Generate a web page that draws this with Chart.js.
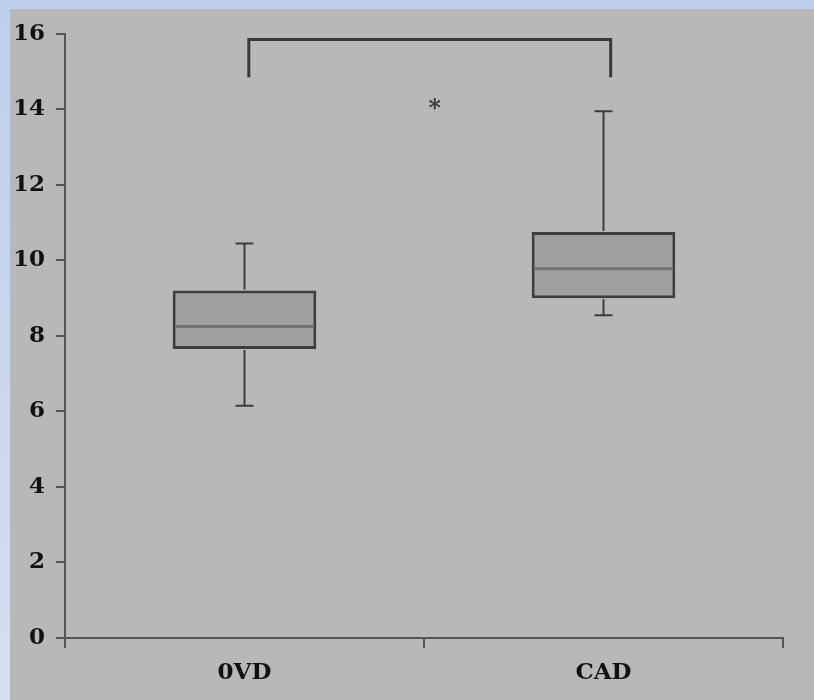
<!DOCTYPE html>
<html>
<head>
<meta charset="utf-8">
<title>0VD vs CAD</title>
<script src="https://cdn.jsdelivr.net/npm/chart.js@4"></script>
<style>
  html, body { margin: 0; padding: 0; }
  body {
    width: 814px; height: 700px; overflow: hidden; position: relative;
    background: linear-gradient(#bdcfec, #d5dff1);
  }
  #panel {
    position: absolute; left: 10px; top: 9px;
    width: 804px; height: 691px; background: #b8b8b8;
  }
</style>
</head>
<body>
<div id="panel"><canvas id="boxChart" width="804" height="691"></canvas></div>
<script>
// groups and box statistics
const categories = ['0VD', 'CAD'];
const whiskerLow = [6.15, 8.55];
const q1 = [7.65, 9.0];
const median = [8.25, 9.78];
const q3 = [9.2, 10.75];
const whiskerHigh = [10.45, 13.95];
const yTicks = [0, 2, 4, 6, 8, 10, 12, 14, 16];

// significance bracket between the two groups
const bracketX = [0.012, 1.02];
const bracketY = [14.85, 15.85];
const starPos = [0.53, 14.1];

const serif = { family: '"DejaVu Serif", serif', size: 23, weight: 'bold' };
const axisColor = '#555555';

const boxExtras = {
  id: 'boxExtras',
  afterDatasetsDraw(chart) {
    const ctx = chart.ctx;
    const xs = chart.scales.x, ys = chart.scales.y;
    const bars = chart.getDatasetMeta(0).data;
    ctx.save();
    categories.forEach((c, i) => {
      const cx = xs.getPixelForValue(i);
      const half = bars[i].width / 2;
      // whiskers
      ctx.strokeStyle = '#3c3c3c';
      ctx.lineWidth = 2;
      ctx.beginPath();
      ctx.moveTo(cx, ys.getPixelForValue(whiskerHigh[i]));
      ctx.lineTo(cx, ys.getPixelForValue(q3[i]) - 1);
      ctx.moveTo(cx, ys.getPixelForValue(q1[i]) + 1);
      ctx.lineTo(cx, ys.getPixelForValue(whiskerLow[i]));
      [whiskerHigh[i], whiskerLow[i]].forEach(v => {
        const py = ys.getPixelForValue(v);
        ctx.moveTo(cx - 9, py);
        ctx.lineTo(cx + 9, py);
      });
      ctx.stroke();
      // median
      ctx.strokeStyle = '#707070';
      ctx.lineWidth = 3;
      ctx.beginPath();
      const my = ys.getPixelForValue(median[i]);
      ctx.moveTo(cx - half + 3, my);
      ctx.lineTo(cx + half - 3, my);
      ctx.stroke();
    });

    // bracket and star
    const x0 = xs.getPixelForValue(bracketX[0]);
    const x1 = xs.getPixelForValue(bracketX[1]);
    const yTop = ys.getPixelForValue(bracketY[1]);
    const yLeg = ys.getPixelForValue(bracketY[0]);
    ctx.strokeStyle = '#3a3a3a';
    ctx.lineWidth = 3;
    ctx.beginPath();
    ctx.moveTo(x0, yLeg);
    ctx.lineTo(x0, yTop);
    ctx.lineTo(x1, yTop);
    ctx.lineTo(x1, yLeg);
    ctx.stroke();

    ctx.fillStyle = '#383838';
    ctx.font = 'bold 24px "DejaVu Serif", serif';
    ctx.textAlign = 'center';
    ctx.textBaseline = 'middle';
    ctx.fillText('*', xs.getPixelForValue(starPos[0]), ys.getPixelForValue(starPos[1]) + 4);
    ctx.restore();
  }
};

new Chart(document.getElementById('boxChart'), {
  type: 'bar',
  data: {
    labels: categories,
    datasets: [{
      data: categories.map((c, i) => [q1[i], q3[i]]),
      backgroundColor: '#a0a0a0',
      borderColor: '#3e3e3e',
      borderWidth: 3,
      borderSkipped: false,
      barPercentage: 0.4,
      categoryPercentage: 1
    }]
  },
  options: {
    responsive: false,
    animation: false,
    layout: { padding: { left: 0, top: 21, right: 31, bottom: 0 } },
    plugins: { legend: { display: false }, tooltip: { enabled: false } },
    scales: {
      x: {
        offset: true,
        afterFit: s => { s.height = 62; },
        grid: { offset: true, drawOnChartArea: false, tickLength: 10, color: axisColor, lineWidth: 2 },
        border: { color: axisColor, width: 2 },
        ticks: { font: serif, color: '#111', padding: 11 }
      },
      y: {
        min: 0,
        max: 16,
        afterFit: s => { s.width = 55; },
        afterBuildTicks: s => { s.ticks = yTicks.map(v => ({ value: v })); },
        grid: { drawOnChartArea: false, tickLength: 9, color: axisColor, lineWidth: 2 },
        border: { color: axisColor, width: 2 },
        ticks: { font: serif, color: '#111', padding: 11 }
      }
    }
  },
  plugins: [boxExtras]
});
</script>
</body>
</html>
